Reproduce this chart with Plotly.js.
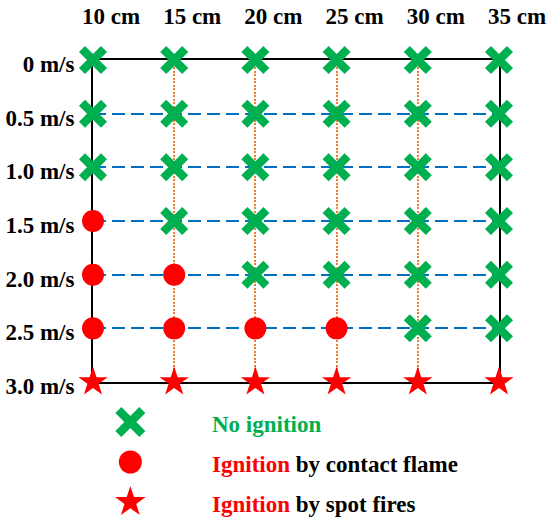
<!DOCTYPE html>
<html>
<head>
<meta charset="utf-8">
<script src="https://cdn.plot.ly/plotly-3.0.1.min.js"></script>
<style>
  html, body { margin: 0; padding: 0; background: #fff; }
  #chart { width: 550px; height: 522px; }
</style>
</head>
<body>
<div id="chart"></div>
<script>
// Columnas (espesor) y filas (velocidad del viento)
const diameters = [10, 15, 20, 25, 30, 35];
const diameterLabels = ['10 cm', '15 cm', '20 cm', '25 cm', '30 cm', '35 cm'];
const speeds = [0, 0.5, 1.0, 1.5, 2.0, 2.5, 3.0];
const speedLabels = ['0 m/s', '0.5 m/s', '1.0 m/s', '1.5 m/s', '2.0 m/s', '2.5 m/s', '3.0 m/s'];

// Resultado por fila: N = sin ignición, C = llama de contacto, S = focos secundarios
const outcomes = [
  ['N', 'N', 'N', 'N', 'N', 'N'],
  ['N', 'N', 'N', 'N', 'N', 'N'],
  ['N', 'N', 'N', 'N', 'N', 'N'],
  ['C', 'N', 'N', 'N', 'N', 'N'],
  ['C', 'C', 'N', 'N', 'N', 'N'],
  ['C', 'C', 'C', 'C', 'N', 'N'],
  ['S', 'S', 'S', 'S', 'S', 'S'],
];

const legendCodes = ['N', 'C', 'S'];
const legendLabels = [
  '<span style="color:#00B050">No ignition</span>',
  '<span style="color:#FF0000">Ignition</span> by contact flame',
  '<span style="color:#FF0000">Ignition</span> by spot fires',
];

const GREEN = '#00B050';
const RED = '#FF0000';
const FONT = 'Times New Roman, Liberation Serif, serif';
const FSIZE = 23;

const estilos = {
  N: { symbol: 'x-thin', color: GREEN, size: 22, legendSize: 24, lw: 8.5 },
  C: { symbol: 'circle', color: RED, size: 22, legendSize: 23, lw: 0 },
  S: { symbol: 'star', color: RED, size: 22, legendSize: 23, lw: 0 },
};

function marcador(e, size) {
  return {
    symbol: e.symbol,
    color: e.color,
    size: size,
    line: { width: e.lw, color: e.color },
  };
}

const traces = [];

legendCodes.forEach(code => {
  const xs = [];
  const ys = [];
  outcomes.forEach((fila, j) => {
    fila.forEach((c, i) => {
      if (c === code) {
        xs.push(diameters[i]);
        ys.push(speeds[j]);
      }
    });
  });
  const e = estilos[code];
  traces.push({
    type: 'scatter',
    mode: 'markers',
    x: xs,
    y: ys,
    cliponaxis: false,
    showlegend: false,
    hoverinfo: 'skip',
    marker: marcador(e, e.size),
  });
});

// Leyenda manual en el subplot inferior
const LEGEND_X = 12.3;
const TEXT_X = 17.2;
const annotations = [];
legendCodes.forEach((code, k) => {
  const e = estilos[code];
  traces.push({
    type: 'scatter',
    mode: 'markers',
    x: [LEGEND_X],
    y: [k + 1],
    xaxis: 'x2',
    yaxis: 'y2',
    cliponaxis: false,
    showlegend: false,
    hoverinfo: 'skip',
    marker: marcador(e, e.legendSize),
  });
  annotations.push({
    xref: 'x2',
    yref: 'y2',
    x: TEXT_X,
    y: k + 1.05,
    xanchor: 'left',
    yanchor: 'middle',
    text: legendLabels[k],
    showarrow: false,
    font: { family: FONT, size: FSIZE, color: '#000', weight: 'bold' },
  });
});

const layout = {
  width: 550,
  height: 522,
  margin: { l: 93, r: 51, t: 60, b: 0 },
  paper_bgcolor: '#fff',
  plot_bgcolor: '#fff',
  showlegend: false,
  xaxis: {
    range: [10, 35],
    side: 'top',
    anchor: 'y',
    tickvals: diameters,
    ticktext: diameterLabels,
    ticks: '',
    ticklabelstandoff: 25,
    ticklabelshift: 18,
    tickfont: { family: FONT, size: FSIZE, color: '#000', weight: 'bold' },
    showline: true,
    mirror: true,
    linecolor: '#000',
    linewidth: 2,
    showgrid: true,
    gridcolor: '#ED7D31',
    gridwidth: 2,
    griddash: '2px,1.5px',
    zeroline: false,
    layer: 'below traces',
    fixedrange: true,
  },
  yaxis: {
    range: [3, 0],
    domain: [0.303, 1],
    anchor: 'x',
    tickvals: speeds,
    ticktext: speedLabels,
    ticks: '',
    ticklabelstandoff: 12,
    ticklabelshift: -4,
    tickfont: { family: FONT, size: FSIZE, color: '#000', weight: 'bold' },
    showline: true,
    mirror: true,
    linecolor: '#000',
    linewidth: 2,
    showgrid: true,
    gridcolor: '#0070C0',
    gridwidth: 2,
    griddash: '13px,6px',
    zeroline: false,
    layer: 'below traces',
    fixedrange: true,
  },
  xaxis2: {
    range: [10, 35],
    domain: [0, 1],
    anchor: 'y2',
    visible: false,
    fixedrange: true,
  },
  yaxis2: {
    range: [3.5, 0],
    domain: [0, 0.303],
    anchor: 'x2',
    visible: false,
    fixedrange: true,
  },
  annotations: annotations,
};

Plotly.newPlot('chart', traces, layout, { displayModeBar: false, staticPlot: true });
</script>
</body>
</html>
